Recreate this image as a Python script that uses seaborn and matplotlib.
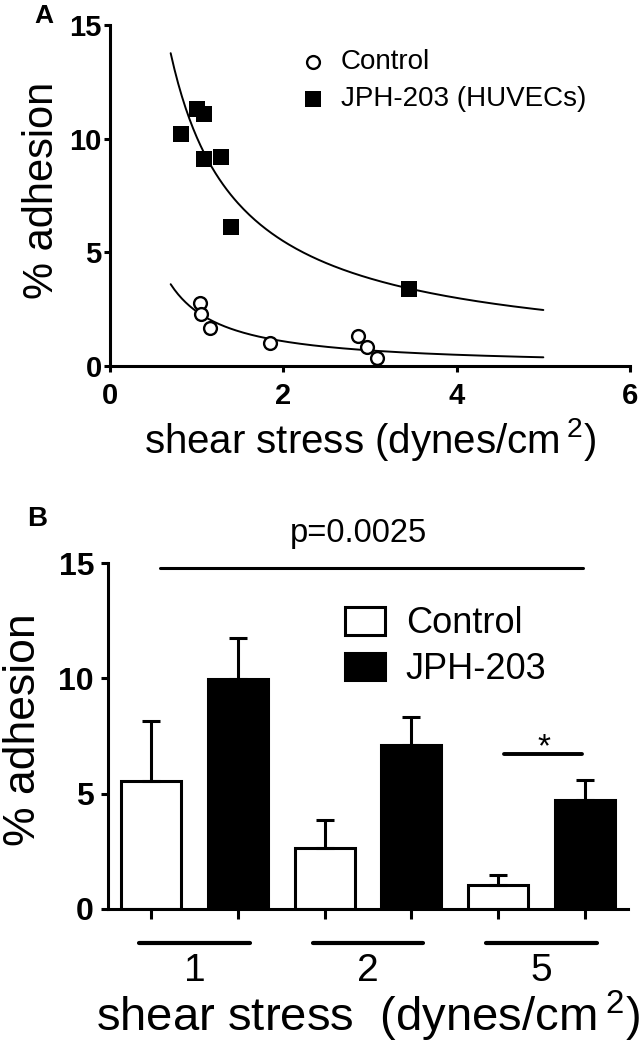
import numpy as np
import pandas as pd
import matplotlib
matplotlib.use("Agg")
import matplotlib.pyplot as plt
import matplotlib.transforms as mtransforms
import seaborn as sns

# ---- panel A: single experiments (shear stress vs % adhesion)
ctrl_shear = [1.04, 1.05, 1.15, 1.85, 2.86, 2.97, 3.08]
ctrl_adh = [2.79, 2.29, 1.66, 1.03, 1.33, 0.85, 0.34]
jph_shear = [0.82, 1.00, 1.08, 1.08, 1.28, 1.40, 3.45]
jph_adh = [10.2, 11.3, 11.1, 9.1, 9.2, 6.1, 3.4]
fit_range = [0.7, 5.0]

# ---- panel B: mean + SEM per shear stress
shear_groups = ['1', '2', '5']
ctrl_mean = [5.53, 2.66, 1.04]
ctrl_sem = [2.64, 1.18, 0.44]
jph_mean = [9.96, 7.13, 4.74]
jph_sem = [1.77, 1.18, 0.87]

sns.set_style("ticks")
plt.rcParams['font.family'] = ['Liberation Sans', 'DejaVu Sans']
plt.rcParams['mathtext.default'] = 'regular'
plt.rcParams['axes.linewidth'] = 2.2
# pure black everywhere (seaborn style uses dark grey)
for key in ['text.color', 'axes.labelcolor', 'axes.edgecolor', 'xtick.color', 'ytick.color']:
    plt.rcParams[key] = 'black'

W, H = 642, 1050
fig = plt.figure(figsize=(W / 100, H / 100), dpi=100)
ax1 = fig.add_axes([110 / W, 1 - 366 / H, 520 / W, 341 / H])
ax2 = fig.add_axes([108 / W, 1 - 909 / H, 520 / W, 346 / H])

# ---------------- panel A
sns.scatterplot(x=ctrl_shear, y=ctrl_adh, marker='o', s=85, color='white',
                edgecolor='black', linewidth=1.7, label='Control', ax=ax1, zorder=3)
sns.scatterplot(x=jph_shear, y=jph_adh, marker='s', s=120, color='black',
                edgecolor='black', linewidth=0, label='JPH-203 (HUVECs)', ax=ax1, zorder=3)
# power-law fits, as in the original figure
for xs, ys in [(ctrl_shear, ctrl_adh), (jph_shear, jph_adh)]:
    slope, icpt = np.polyfit(np.log(xs), np.log(ys), 1)
    xf = np.linspace(fit_range[0], fit_range[1], 200)
    sns.lineplot(x=xf, y=np.exp(icpt) * xf ** slope, color='black', lw=1.4, ax=ax1)

ax1.legend(loc='upper left', bbox_to_anchor=(0.3635, 0.93), frameon=False, fontsize=20,
           handlelength=1.0, handletextpad=0.5, labelspacing=0.4, borderpad=0,
           borderaxespad=0)
ax1.set_xlim(0, 6)
ax1.set_ylim(0, 15)
ax1.set_xticks([0, 2, 4, 6])
ax1.set_yticks([0, 5, 10, 15])
sns.despine(ax=ax1)
ax1.tick_params(direction='out', length=4.5, width=2.2, labelsize=21)
ax1.tick_params(axis='x', pad=7)
ax1.tick_params(axis='y', pad=1.5)
for lab in ax1.get_xticklabels() + ax1.get_yticklabels():
    lab.set_fontweight('bold')
ax1.set_xlabel('shear stress (dynes/cm$\\,^{2}$)', fontsize=29, va='baseline')
ax1.xaxis.set_label_coords(0.5, -0.255)
ax1.set_ylabel('% adhesion', fontsize=30, va='baseline', ha='center')
ax1.yaxis.set_label_coords(-0.11, 0.516)

# ---------------- panel B
df_b = pd.DataFrame({'shear': shear_groups * 2,
                     'group': ['Control'] * 3 + ['JPH-203'] * 3,
                     'adhesion': ctrl_mean + jph_mean})
sns.barplot(data=df_b, x='shear', y='adhesion', hue='group',
            palette={'Control': 'white', 'JPH-203': 'black'}, edgecolor='black',
            linewidth=2.2, width=1.0, gap=0.31, errorbar=None, ax=ax2)
bar_conts = list(ax2.containers)
sems = [ctrl_sem, jph_sem]
tick_pos = []
for cont, sem in zip(bar_conts, sems):
    xs = [b.get_x() + b.get_width() / 2 for b in cont]
    hs = [b.get_height() for b in cont]
    ax2.errorbar(xs, hs, yerr=[np.zeros(len(sem)), sem], fmt='none', ecolor='black',
                 elinewidth=2.2, capsize=6.8, capthick=2.2, zorder=1)
    tick_pos += xs

old = ax2.get_legend()
handles = old.legend_handles
labels = [t.get_text() for t in old.texts]
for h in handles:
    h.set_edgecolor('black')
    h.set_linewidth(2.2)
ax2.legend(handles, labels, loc='upper left', bbox_to_anchor=(0.456, 0.875),
           frameon=False, fontsize=26, handlelength=1.1, handleheight=0.8,
           handletextpad=0.58, labelspacing=0.3, borderpad=0, borderaxespad=0)

ax2.set_xlim(-0.5, 2.5)
ax2.set_ylim(0, 15)
ax2.set_yticks([0, 5, 10, 15])
ax2.set_xticks(sorted(tick_pos))
ax2.set_xticklabels([])
sns.despine(ax=ax2)
ax2.tick_params(direction='out', width=2.2)
ax2.tick_params(axis='x', length=7)
ax2.tick_params(axis='y', length=5, pad=5, labelsize=23)
for lab in ax2.get_yticklabels():
    lab.set_fontweight('bold')

# group bars + labels under the axis
trans = mtransforms.blended_transform_factory(ax2.transData, ax2.transAxes)
for i, g in enumerate(shear_groups):
    ax2.plot([i - 0.32, i + 0.32], [-0.098, -0.098], transform=trans, color='black',
             lw=3, solid_capstyle='round', clip_on=False)
    ax2.text(i, -0.178, g, transform=trans, ha='center', va='center', fontsize=28)

# significance marks
ax2.plot([-0.2, 2.24], [14.8, 14.8], color='black', lw=2.2, clip_on=False)
ax2.text(0.945, 16.3, 'p=0.0025', ha='center', va='center', fontsize=23.5)
ax2.plot([1.787, 2.236], [6.71, 6.71], color='black', lw=2.8, solid_capstyle='round')
ax2.text(2.017, 6.6, '*', ha='center', va='baseline', fontsize=24)

ax2.set_xlabel('shear stress  (dynes/cm$\\,^{2}$)', fontsize=34, va='baseline')
ax2.xaxis.set_label_coords(0.5, -0.355)
ax2.set_ylabel('% adhesion', fontsize=32, va='baseline', ha='center')
ax2.yaxis.set_label_coords(-0.14, 0.517)

fig.text(44 / W, 1 - 16 / H, 'A', fontsize=19, fontweight='bold', ha='center', va='center')
fig.text(37 / W, 1 - 519 / H, 'B', fontsize=20, fontweight='bold', ha='center', va='center')

fig.savefig('out.png', dpi=100)
